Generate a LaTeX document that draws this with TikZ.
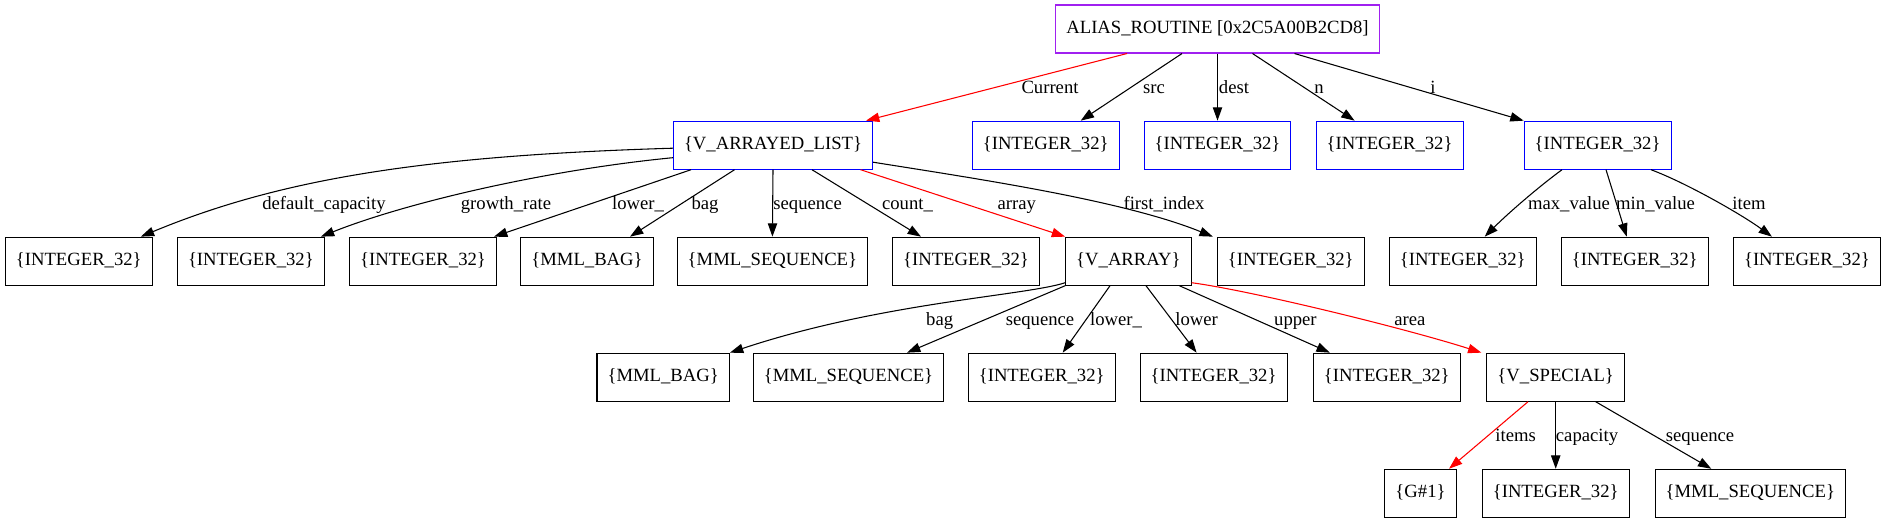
\documentclass[tikz,border=0pt]{standalone}
\usepackage{fontspec}
\setmainfont{Liberation Serif}
\usetikzlibrary{arrows.meta,calc}
\definecolor{gvblue}{HTML}{0000FF}
\definecolor{gvpurple}{HTML}{A020F0}
\definecolor{gvred}{HTML}{FF0000}

\begin{document}
\begin{tikzpicture}[x=0.75pt,y=-0.75pt,
  font=\fontsize{14}{16}\selectfont,
  obj/.style={draw,line width=0.8pt,minimum height=36pt,minimum width=54pt,
    inner xsep=7.92pt,inner ysep=0pt,text height=10pt,text depth=3pt},
  ref/.style={obj,draw=gvblue},
  link/.style={-{Triangle[length=10pt,width=7pt]},line width=0.8pt},
  hot/.style={link,gvred},
  lbl/.style={inner sep=0pt,text=black,text height=10pt,text depth=3pt}]
  \useasboundingbox (0,0) rectangle (1887,523);

  \node[obj,draw=gvpurple] (alias) at (1217.5,29) {ALIAS\_ROUTINE [0x2C5A00B2CD8]};
  % fields of the routine
  \node[ref] (val) at (773,145.2) {\{V\_ARRAYED\_LIST\}};
  \foreach \nm/\px in {i1/1045.7,i2/1217.5,i3/1389.6,i4/1597.6}
    \node[ref] (\nm) at (\px,145.2) {\{INTEGER\_32\}};
  % second level
  \foreach \nm/\px in {a1/78.8,a2/250.9,a3/423,a6/966,a8/1290.8,b1/1462.7,b2/1634.7,b3/1806.9}
    \node[obj] (\nm) at (\px,261.2) {\{INTEGER\_32\}};
  \node[obj] (bag) at (587,261.2) {\{MML\_BAG\}};
  \node[obj] (seq) at (772.4,261.2) {\{MML\_SEQUENCE\}};
  \node[obj] (arr) at (1128.4,261.2) {\{V\_ARRAY\}};
  % third level
  \node[obj] (abag) at (663.2,377.2) {\{MML\_BAG\}};
  \node[obj] (aseq) at (848.5,377.2) {\{MML\_SEQUENCE\}};
  \foreach \nm/\px in {c3/1041.7,c4/1213.6,c5/1386.8}
    \node[obj] (\nm) at (\px,377.2) {\{INTEGER\_32\}};
  \node[obj] (spec) at (1555.7,377.2) {\{V\_SPECIAL\}};
  % fourth level
  \node[obj] (gen) at (1420.5,493.3) {\{G\#1\}};
  \node[obj] (cap) at (1555.7,493.3) {\{INTEGER\_32\}};
  \node[obj] (sseq) at (1750.3,493.3) {\{MML\_SEQUENCE\}};

  % routine links
  \draw[hot] ($(alias.south)+(-90.5,0)$) -- ($(val.north)+(93,0)$) node[lbl] at (1050,88.5) {Current};
  \foreach \tl/\hd/\dh/\lab/\lx in {-35.5/i1/35/src/1154,0/i2/0/dest/1234,35/i3/-35/n/1319}
    \draw[link] ($(alias.south)+(\tl,0)$) -- ($(\hd.north)+(\dh,0)$) node[lbl] at (\lx,88.5) {\lab};
  \draw[link] ($(alias.south)+(77,0)$) -- (i4.north west) node[lbl] at (1433,88.5) {i};

  % list links
  \draw[link] ($(val.west)+(0,3)$) .. controls +(-250,7.5) and +(138.6,-57.5) .. ($(a1.north)+(62,0)$)
    node[lbl] at (324,204.5) {default\_capacity};
  \draw[link] ($(val.west)+(0,12.5)$) .. controls +(-129.5,12.6) and +(83.6,-33.4) .. ($(a2.north)+(70,0)$)
    node[lbl] at (506,204.5) {growth\_rate};
  \foreach \tl/\hd/\dh/\lab/\lx in {-82/a3/71/lower\_/638,-38.5/bag/43/bag/705,0/seq/0/sequence/807.6,39/a6/-45/count\_/907.5}
    \draw[link] ($(val.south)+(\tl,0)$) -- ($(\hd.north)+(\dh,0)$) node[lbl] at (\lx,204.5) {\lab};
  \draw[hot] ($(val.south)+(87.6,0)$) -- (arr.north west) node[lbl] at (1016.7,204.5) {array};
  \draw[link] ($(val.east)+(0,17)$) .. controls +(100,16) and +(-90,-36.6) .. ($(a8.north west)+(-4,0)$)
    node[lbl] at (1164,204.5) {first\_index};

  % counter links
  \draw[link] ($(i4.south)+(-35.6,0)$) .. controls +(-22,16) and +(24,-24) .. ($(b1.north)+(22,0)$)
    node[lbl] at (1569,204.5) {max\_value};
  \draw[link] ($(i4.south)+(8.4,0)$) -- ($(b2.north)+(-8,0)$) node[lbl] at (1655.6,204.5) {min\_value};
  \draw[link] ($(i4.south)+(53.4,0)$) .. controls +(35,13) and +(-30,-22) .. ($(b3.north)+(-35,0)$)
    node[lbl] at (1749,204.5) {item};

  % array links
  \draw[link] ($(arr.south west)+(0,-3)$) .. controls +(-40,13) and +(150,-50) .. (abag.north east)
    node[lbl] at (939.7,320.5) {bag};
  \draw[link] (arr.south west) -- ($(aseq.north)+(58.5,0)$) node[lbl] at (1040,320.5) {sequence};
  \foreach \tl/\hd/\dh/\lab/\lx in {-18.4/c3/21/lower\_/1116,17.6/c4/-17/lower/1196.6,51/c5/-57/upper/1295.4}
    \draw[link] ($(arr.south)+(\tl,0)$) -- ($(\hd.north)+(\dh,0)$) node[lbl] at (\lx,320.5) {\lab};
  \draw[hot] ($(arr.south east)+(0,-3)$) .. controls +(60,8) and +(-75,-24) .. ($(spec.north west)+(-5,0)$)
    node[lbl] at (1409.8,320.5) {area};

  % special links
  \draw[hot] ($(spec.south)+(-27.7,0)$) -- ($(gen.north)+(28.5,0)$) node[lbl] at (1515.6,436.5) {items};
  \draw[link] (spec.south) -- (cap.north) node[lbl] at (1587,436.5) {capacity};
  \draw[link] ($(spec.south)+(40,0)$) -- ($(sseq.north)+(-39,0)$) node[lbl] at (1700,436.5) {sequence};
\end{tikzpicture}
\end{document}
